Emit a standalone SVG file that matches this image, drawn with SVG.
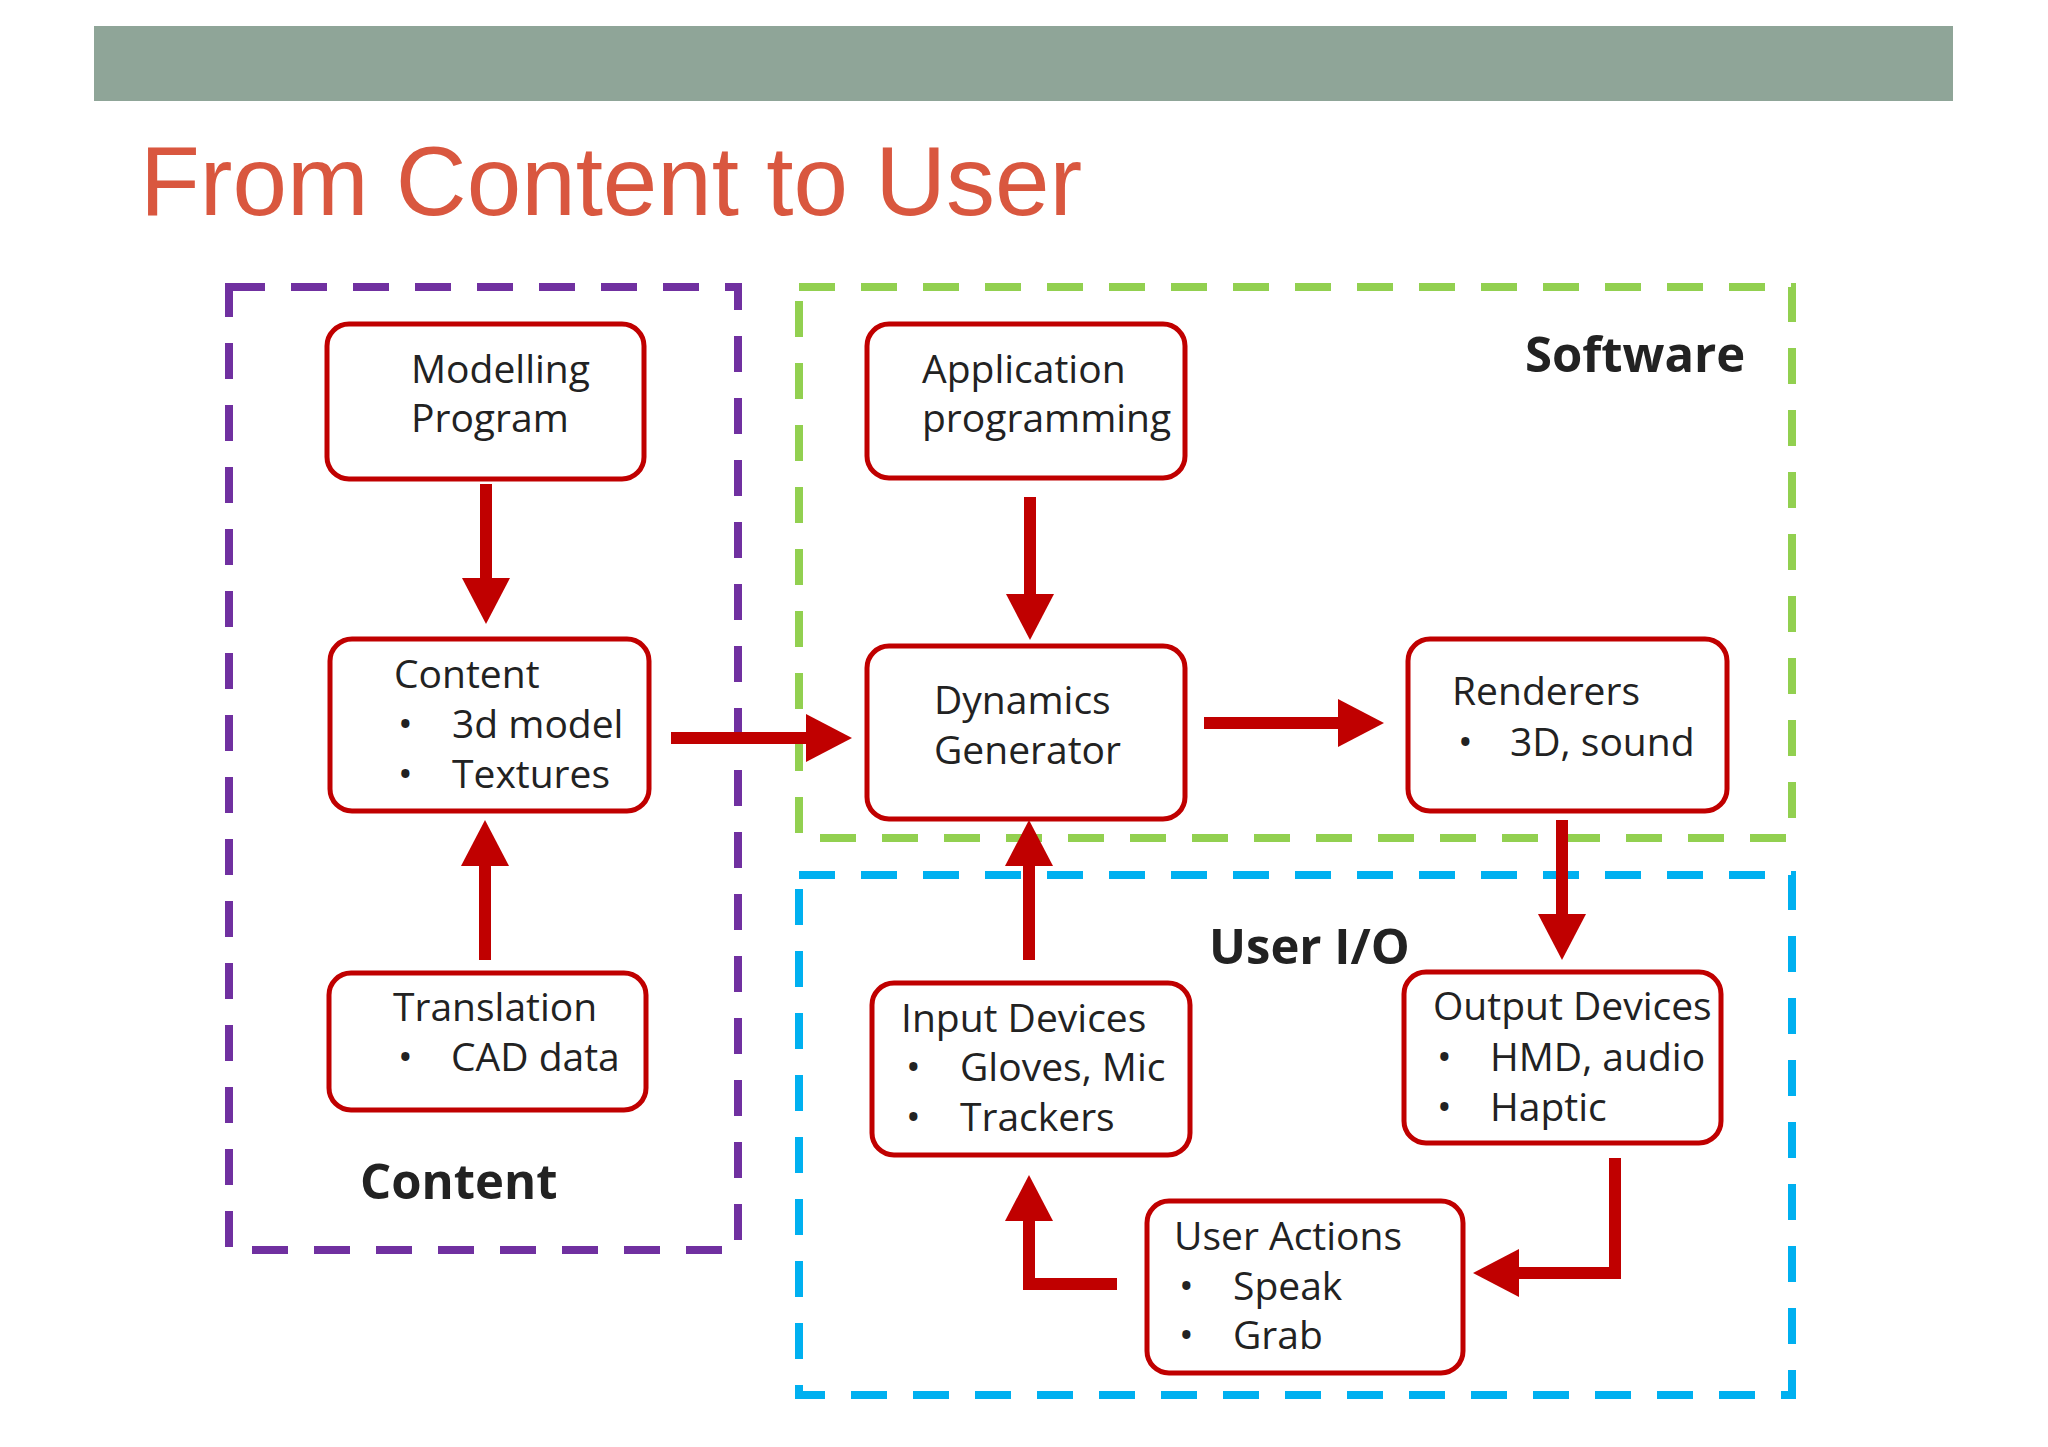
<svg xmlns="http://www.w3.org/2000/svg" width="2048" height="1447" viewBox="0 0 2048 1447">
<style>
.node rect{fill:#fff;stroke:#c00000;stroke-width:5}
.t{font-family:"Open Sans","Liberation Sans",sans-serif;font-size:39px;fill:#222}
.lbl{font-family:"Open Sans","Liberation Sans",sans-serif;font-size:49px;font-weight:bold;fill:#222}
.grp{fill:none;stroke-width:8;stroke-dasharray:36 26}
.arr{fill:none;stroke:#c00000;stroke-width:12}
</style>
<defs>
<marker id="ah" markerUnits="userSpaceOnUse" markerWidth="48" markerHeight="50" viewBox="0 -25 48 50" refX="0" refY="0" orient="auto" overflow="visible">
<path d="M0,-24 L46,0 L0,24 Z" fill="#c00000"/>
</marker>
</defs>
<rect width="2048" height="1447" fill="#fff"/>
<rect x="94" y="26" width="1859" height="75" fill="#8fa598"/>
<text x="140" y="215" font-family="Liberation Sans,Arial,sans-serif" font-size="98" fill="#d9573f">From Content to User</text>

<g id="groups">
<rect class="grp" x="229" y="287" width="509" height="963" stroke="#7030a0"/>
<rect class="grp" x="799" y="287" width="993" height="551" stroke="#92d050"/>
<rect class="grp" x="799" y="875" width="993" height="520" stroke="#00b0f0"/>
<text class="lbl" x="1525" y="372">Software</text>
<text class="lbl" x="1209" y="964">User I/O</text>
<text class="lbl" x="360" y="1199">Content</text>
</g>

<g id="connectors">
<path class="arr" d="M486,484 V578" marker-end="url(#ah)"/>
<path class="arr" d="M485,960 V866" marker-end="url(#ah)"/>
<path class="arr" d="M671,738 H806" marker-end="url(#ah)"/>
<path class="arr" d="M1030,497 V594" marker-end="url(#ah)"/>
<path class="arr" d="M1204,723 H1338" marker-end="url(#ah)"/>
<path class="arr" d="M1562,820 V914" marker-end="url(#ah)"/>
<path class="arr" d="M1029,960 V866" marker-end="url(#ah)"/>
<path class="arr" d="M1615,1158 V1273 H1519" marker-end="url(#ah)"/>
<path class="arr" d="M1117,1284 H1029 V1221" marker-end="url(#ah)"/>
</g>

<g id="modelling" class="node"><rect x="327" y="324" width="317" height="155" rx="22"/>
<text class="t" x="411" y="383">Modelling</text><text class="t" x="411" y="432">Program</text></g>
<g id="content" class="node"><rect x="330" y="639" width="319" height="172" rx="22"/>
<text class="t" x="394" y="688">Content</text>
<text class="t" x="398" y="738">•</text><text class="t" x="452" y="738">3d model</text>
<text class="t" x="398" y="788">•</text><text class="t" x="452" y="788">Textures</text></g>
<g id="translation" class="node"><rect x="329" y="973" width="317" height="137" rx="22"/>
<text class="t" x="393" y="1021">Translation</text>
<text class="t" x="398" y="1071">•</text><text class="t" x="451" y="1071">CAD data</text></g>
<g id="application" class="node"><rect x="867" y="324" width="318" height="154" rx="22"/>
<text class="t" x="922" y="383">Application</text><text class="t" x="922" y="432">programming</text></g>
<g id="dynamics" class="node"><rect x="867" y="646" width="318" height="173" rx="22"/>
<text class="t" x="934" y="714">Dynamics</text><text class="t" x="934" y="764">Generator</text></g>
<g id="renderers" class="node"><rect x="1408" y="639" width="319" height="172" rx="22"/>
<text class="t" x="1452" y="705">Renderers</text>
<text class="t" x="1458" y="756">•</text><text class="t" x="1510" y="756">3D, sound</text></g>
<g id="input" class="node"><rect x="872" y="983" width="318" height="172" rx="22"/>
<text class="t" x="901" y="1032">Input Devices</text>
<text class="t" x="906" y="1081">•</text><text class="t" x="960" y="1081">Gloves, Mic</text>
<text class="t" x="906" y="1131">•</text><text class="t" x="960" y="1131">Trackers</text></g>
<g id="output" class="node"><rect x="1404" y="972" width="317" height="171" rx="22"/>
<text class="t" x="1433" y="1020">Output Devices</text>
<text class="t" x="1437" y="1071">•</text><text class="t" x="1490" y="1071">HMD, audio</text>
<text class="t" x="1437" y="1121">•</text><text class="t" x="1490" y="1121">Haptic</text></g>
<g id="useractions" class="node"><rect x="1147" y="1201" width="316" height="172" rx="22"/>
<text class="t" x="1174" y="1250">User Actions</text>
<text class="t" x="1179" y="1300">•</text><text class="t" x="1233" y="1300">Speak</text>
<text class="t" x="1179" y="1349">•</text><text class="t" x="1233" y="1349">Grab</text></g>
</svg>
